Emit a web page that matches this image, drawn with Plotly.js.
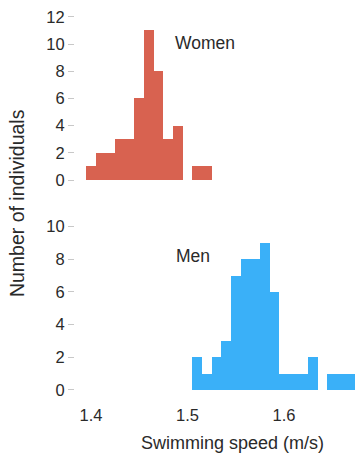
<!DOCTYPE html>
<html>
<head>
<meta charset="utf-8">
<script src="https://cdn.plot.ly/plotly-3.0.1.min.js"></script>
<style>html,body{margin:0;padding:0;background:#fff;}#chart{width:355px;height:457px;}</style>
</head>
<body>
<div id="chart"></div>
<script>
// Bin centres (m/s), bin width 0.01
var womenSpeed = [1.40, 1.41, 1.42, 1.43, 1.44, 1.45, 1.46, 1.47, 1.48, 1.49, 1.50, 1.51, 1.52];
var womenCount = [1, 2, 2, 3, 3, 6, 11, 8, 3, 4, 0, 1, 1];
var menSpeed = [1.51, 1.52, 1.53, 1.54, 1.55, 1.56, 1.57, 1.58, 1.59, 1.60, 1.61, 1.62, 1.63, 1.64, 1.65, 1.66, 1.67];
var menCount = [2, 1, 2, 3, 7, 8, 8, 9, 6, 1, 1, 1, 2, 0, 1, 1, 1];
var binWidth = 0.01;
var xTicks = [1.4, 1.5, 1.6];
var womenTicks = [0, 2, 4, 6, 8, 10, 12];
var menTicks = [0, 2, 4, 6, 8, 10];

var font = 'Liberation Sans, Arial, Helvetica, sans-serif';
var textColor = '#2a2a2a';

var traces = [
  {type: 'bar', x: womenSpeed, y: womenCount, width: binWidth, xaxis: 'x', yaxis: 'y2',
   marker: {color: 'rgb(216,98,80)', line: {width: 0}}, hoverinfo: 'skip'},
  {type: 'bar', x: menSpeed, y: menCount, width: binWidth, xaxis: 'x', yaxis: 'y',
   marker: {color: 'rgb(58,176,248)', line: {width: 0}}, hoverinfo: 'skip'}
];

var yCommon = {
  showgrid: false, zeroline: false, showline: false,
  ticks: 'outside', ticklen: 6, tickwidth: 1, tickcolor: '#c8c8c8',
  tickfont: {family: font, size: 16.5, color: textColor}, fixedrange: true
};

var layout = {
  width: 355, height: 457,
  margin: {l: 75, r: 0, t: 10, b: 67},
  paper_bgcolor: '#fff', plot_bgcolor: '#fff',
  showlegend: false, bargap: 0,
  font: {family: font, color: textColor},
  xaxis: {
    range: [1.3834, 1.6736], tickvals: xTicks, ticktext: xTicks.map(function(v){return v.toFixed(1);}),
    showgrid: false, zeroline: false, showline: false,
    ticks: 'outside', ticklen: 10, tickcolor: 'rgba(0,0,0,0)',
    tickfont: {family: font, size: 16.5, color: textColor}, anchor: 'y', fixedrange: true
  },
  yaxis: Object.assign({}, yCommon, {domain: [0, 0.4729], range: [0, 11], tickvals: menTicks, anchor: 'x'}),
  yaxis2: Object.assign({}, yCommon, {domain: [0.5526, 1], range: [0, 12.5], tickvals: womenTicks, anchor: 'x'}),
  annotations: [
    {text: 'Women', xref: 'x', yref: 'y2', x: 1.485, y: 10.07, xanchor: 'left', yanchor: 'middle',
     showarrow: false, font: {family: font, size: 17.5, color: textColor}},
    {text: 'Men', xref: 'x', yref: 'y', x: 1.486, y: 8.2, xanchor: 'left', yanchor: 'middle',
     showarrow: false, font: {family: font, size: 17.5, color: textColor}},
    {text: 'Swimming speed (m/s)', xref: 'paper', yref: 'paper', x: 0.561, y: -0.139, xanchor: 'center', yanchor: 'middle',
     showarrow: false, font: {family: font, size: 18, color: textColor}},
    {text: 'Number of individuals', xref: 'paper', yref: 'paper', x: -0.207, y: 0.492, xanchor: 'center', yanchor: 'middle',
     textangle: -90, showarrow: false, font: {family: font, size: 19.5, color: textColor}}
  ]
};

Plotly.newPlot('chart', traces, layout, {displayModeBar: false, staticPlot: true});
</script>
</body>
</html>
